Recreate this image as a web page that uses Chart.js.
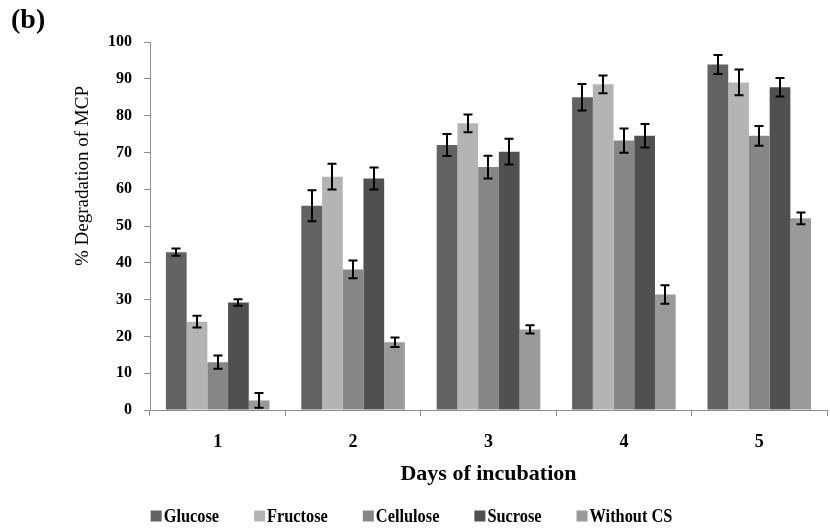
<!DOCTYPE html>
<html>
<head>
<meta charset="utf-8">
<script src="https://cdn.jsdelivr.net/npm/chart.js@4/dist/chart.umd.min.js"></script>
<style>
  html, body { margin: 0; padding: 0; background: #fff; }
  #wrap { width: 830px; height: 528px; position: relative; }
</style>
</head>
<body>
<div id="wrap"><canvas id="c" width="830" height="528"></canvas></div>
<script>
// Days of incubation
const days = ['1', '2', '3', '4', '5'];

// % degradation of MCP for each carbon source, with standard errors
const glucose     = [42.9, 55.5, 72.0, 85.0, 93.9];
const glucoseErr  = [1.0, 4.2, 3.0, 3.6, 2.6];
const fructose    = [24.0, 63.4, 77.9, 88.5, 89.0];
const fructoseErr = [1.6, 3.5, 2.4, 2.4, 3.5];
const cellulose   = [13.0, 38.2, 66.0, 73.2, 74.5];
const celluloseErr= [1.8, 2.4, 3.1, 3.3, 2.7];
const sucrose     = [29.2, 62.9, 70.2, 74.5, 87.7];
const sucroseErr  = [0.9, 3.0, 3.5, 3.2, 2.5];
const withoutCS   = [2.6, 18.4, 21.9, 31.4, 52.1];
const withoutCSErr= [2.0, 1.3, 1.1, 2.5, 1.6];

const seriesNames = ['Glucose', 'Fructose', 'Cellulose', 'Sucrose', 'Without CS'];
const seriesColors = ['#626262', '#b4b4b4', '#868686', '#505050', '#9a9a9a'];
const yTicks = [0, 10, 20, 30, 40, 50, 60, 70, 80, 90, 100];

const values = [glucose, fructose, cellulose, sucrose, withoutCS];
const errors = [glucoseErr, fructoseErr, celluloseErr, sucroseErr, withoutCSErr];

const SERIF = '"Liberation Serif", "Times New Roman", serif';

// Error bars drawn on top of each bar through the y scale
const errorBars = {
  id: 'errorBars',
  afterDatasetsDraw(chart) {
    const ctx = chart.ctx;
    const y = chart.scales.y;
    ctx.save();
    ctx.strokeStyle = '#000';
    ctx.lineWidth = 2;
    chart.data.datasets.forEach((ds, di) => {
      const meta = chart.getDatasetMeta(di);
      meta.data.forEach((bar, i) => {
        const v = ds.data[i], e = ds.err[i];
        const x = Math.round(bar.x);
        const top = y.getPixelForValue(v + e);
        const bot = y.getPixelForValue(Math.max(0, v - e));
        const cap = 4.5;
        ctx.beginPath();
        ctx.moveTo(x, top); ctx.lineTo(x, bot);
        ctx.moveTo(x - cap, top); ctx.lineTo(x + cap, top);
        ctx.moveTo(x - cap, bot); ctx.lineTo(x + cap, bot);
        ctx.stroke();
      });
    });
    ctx.restore();
  }
};

// Panel label, axis titles and legend
const annotations = {
  id: 'annotations',
  afterDraw(chart) {
    const ctx = chart.ctx;
    const area = chart.chartArea;
    ctx.save();
    ctx.fillStyle = '#000';

    ctx.font = 'bold 28px ' + SERIF;
    ctx.textAlign = 'left';
    ctx.textBaseline = 'alphabetic';
    ctx.fillText('(b)', 11, 28);

    ctx.font = 'bold 22px ' + SERIF;
    ctx.textAlign = 'center';
    ctx.fillText('Days of incubation', (area.left + area.right) / 2, 480);

    ctx.save();
    ctx.translate(88, 176);
    ctx.rotate(-Math.PI / 2);
    ctx.font = '19px ' + SERIF;
    ctx.textAlign = 'center';
    ctx.textBaseline = 'alphabetic';
    ctx.fillText('% Degradation of MCP', 0, 0);
    ctx.restore();

    // legend row, set in a slightly condensed face
    const sx = 0.86;
    ctx.font = 'bold 19px ' + SERIF;
    ctx.textAlign = 'left';
    ctx.textBaseline = 'middle';
    const box = 11, boxGap = 2, itemGap = 35;
    const textW = seriesNames.map(n => ctx.measureText(n).width * sx);
    const widths = textW.map(w => box + boxGap + w);
    const total = widths.reduce((a, b) => a + b, 0) + itemGap * (widths.length - 1);
    let x = 411.5 - total / 2;
    const cy = 516;
    seriesNames.forEach((n, i) => {
      ctx.fillStyle = seriesColors[i];
      ctx.fillRect(x, cy - box / 2, box, box);
      ctx.fillStyle = '#000';
      ctx.save();
      ctx.translate(x + box + boxGap, cy + 1);
      ctx.scale(sx, 1);
      ctx.fillText(n, 0, 0);
      ctx.restore();
      x += widths[i] + itemGap;
    });
    ctx.restore();
  }
};

new Chart(document.getElementById('c'), {
  type: 'bar',
  data: {
    labels: days,
    datasets: seriesNames.map((name, i) => ({
      label: name,
      data: values[i],
      err: errors[i],
      backgroundColor: seriesColors[i],
      borderWidth: 0,
      barPercentage: 1.0,
      categoryPercentage: 0.765
    }))
  },
  options: {
    responsive: false,
    animation: false,
    devicePixelRatio: 1,
    layout: { padding: { top: 42, right: 3, bottom: 0, left: 0 } },
    plugins: {
      legend: { display: false },
      tooltip: { enabled: false },
      title: { display: false }
    },
    scales: {
      x: {
        afterFit(scale) { scale.height = 118; },
        grid: {
          offset: true,
          drawOnChartArea: false,
          drawTicks: true,
          tickLength: 6,
          color: '#8c8c8c'
        },
        border: { display: true, color: '#8c8c8c', width: 1 },
        ticks: {
          color: '#000',
          padding: 16,
          font: { family: SERIF, size: 18, weight: 'bold' }
        }
      },
      y: {
        min: 0,
        max: 100,
        afterFit(scale) { scale.width = 150; },
        afterBuildTicks(scale) { scale.ticks = yTicks.map(v => ({ value: v })); },
        grid: {
          drawOnChartArea: false,
          drawTicks: true,
          tickLength: 6,
          color: '#8c8c8c'
        },
        border: { display: true, color: '#8c8c8c', width: 1 },
        ticks: {
          color: '#000',
          padding: 12,
          font: { family: SERIF, size: 16, weight: 'bold' }
        }
      }
    }
  },
  plugins: [errorBars, annotations]
});
</script>
</body>
</html>
